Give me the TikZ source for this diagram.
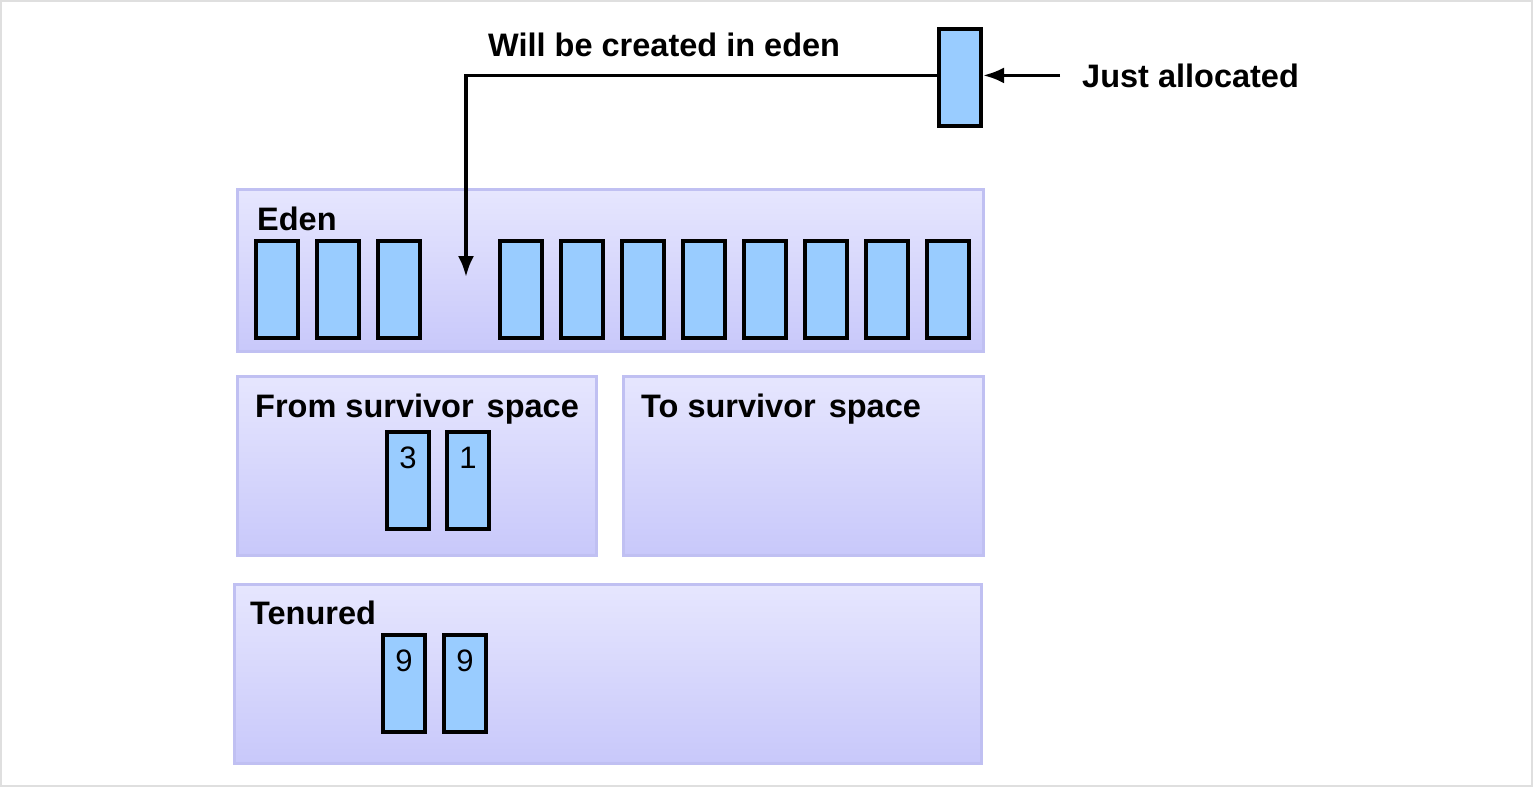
\documentclass[tikz,border=0pt]{standalone}
\usepackage{fontspec}
\setmainfont{Liberation Sans}
\usetikzlibrary{arrows.meta, positioning, calc}

\definecolor{objblue}{RGB}{153,204,255}
\definecolor{regtop}{RGB}{230,230,254}
\definecolor{regbot}{RGB}{200,200,250}
\definecolor{regline}{RGB}{192,192,242}

\tikzset{
  obj/.style={draw=black, fill=objblue, line width=4pt, minimum width=42pt, minimum height=97pt, inner sep=0pt},
  region/.style={draw=regline, line width=3pt, top color=regtop, bottom color=regbot, inner sep=0pt},
  title/.style={font=\bfseries\fontsize{32.5}{36}\selectfont, inner sep=0pt, anchor=base west},
  age/.style={font=\fontsize{31}{32}\selectfont, inner sep=0pt, anchor=north, yshift=-17pt},
  conn/.style={line width=3.5pt, -{Latex[length=21pt, width=16pt]}}
}

\begin{document}
\begin{tikzpicture}[x=1pt, y=-1pt, >=latex]

\useasboundingbox (0,0) rectangle (1534,788);
\draw[gray!25, line width=2pt] (1,1) rectangle (1532,786);

\node[region, minimum width=746pt, minimum height=162pt] (eden) at (610.5, 270.5) {};
\node[region, minimum width=359pt, minimum height=179pt] (from) at (417, 466) {};
\node[region, minimum width=360pt, minimum height=179pt] (to) at (803.5, 466) {};
\node[region, minimum width=747pt, minimum height=179pt] (tenured) at (608, 674) {};

\node[title] (edenlbl) at (257, 230) {Eden};
\node[title] (fromlbl) at (255, 417) {From survivor \hspace{4pt}space};
\node[title] (tolbl) at (641, 417) {To survivor \hspace{4pt}space};
\node[title] (tenlbl) at (250, 624) {Tenured};

\foreach \k in {0,1,2,4,5,6,7,8,9,10,11}
  \node[obj] (e\k) at ({277+61*\k}, 289) {};

\node[obj, label={[age]north:3}] (s1) at (408, 480) {};
\node[obj, label={[age]north:1}] (s2) at (468, 480) {};

\node[obj, label={[age]north:9}] (t1) at (404, 683) {};
\node[obj, label={[age]north:9}] (t2) at (465, 683) {};

\node[obj] (new) at (960, 77) {};
\node[title] (just) at (1082, 87) {Just allocated};
\node[title] (willlbl) at (488, 56) {Will be created in eden};

\coordinate (jstart) at ($(just.west) + (-22, 0)$);
\coordinate (drop) at (466, 277);

\draw[conn] (jstart) -- (jstart -| new.east);
\draw[conn] (new.west |- jstart) -| (drop);

\end{tikzpicture}
\end{document}
